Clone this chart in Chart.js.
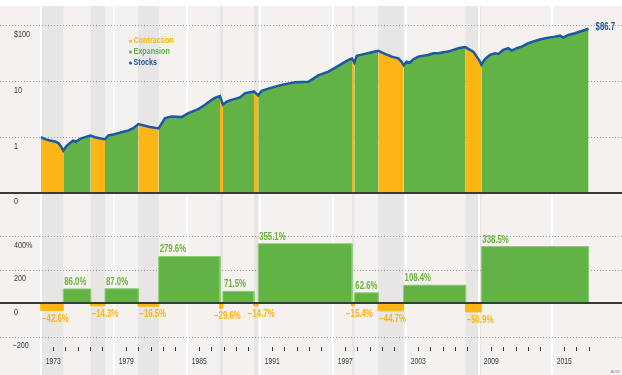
<!DOCTYPE html>
<html lang="en">
<head>
<meta charset="UTF-8">
<title>Stocks through contractions and expansions</title>
<script src="https://cdn.jsdelivr.net/npm/chart.js"></script>
<style>
  body { margin: 0; background: #fff; }
  #wrap { position: relative; width: 622px; height: 375px; overflow: hidden; }
  canvas { position: absolute; left: 0; }
  #top { top: 0; z-index: 2; }
  #bottom { top: 194px; z-index: 1; }
</style>
</head>
<body>
<div id="wrap">
  <canvas id="bottom" width="622" height="181"></canvas>
  <canvas id="top" width="622" height="212"></canvas>
</div>
<script>
// periods: C = contraction, E = expansion (years as decimals)
const periodPhase  = ['C','E','C','E','C','E','C','E','C','E','C','E','C','E','C','E'];
const periodStart  = [1973.00, 1974.83, 1977.08, 1978.26, 1981.00, 1982.67, 1987.71, 1987.95,
                      1990.50, 1990.85, 1998.56, 1998.75, 2000.72, 2002.80, 2007.90, 2009.19];
const periodEnd    = [1974.83, 1977.08, 1978.26, 1981.00, 1982.67, 1987.71, 1987.95, 1990.50,
                      1990.85, 1998.56, 1998.75, 2000.72, 2002.80, 2007.90, 2009.19, 2018.00];
const periodReturn = [-42.6, 86.0, -14.3, 87.0, -16.5, 279.6, -29.6, 71.5,
                      -14.7, 355.1, -15.4, 62.6, -44.7, 108.4, -50.9, 338.5];

// growth of $1 in stocks
const stockYears = [1973.00, 1973.33, 1973.74, 1974.15, 1974.42, 1974.64, 1974.83, 1975.11, 1975.38, 1975.65,
  1975.85, 1976.21, 1976.62, 1976.86, 1977.08, 1977.44, 1977.99, 1978.26, 1978.53, 1978.94,
  1979.35, 1979.76, 1980.18, 1980.59, 1981.00, 1981.55, 1981.96, 1982.23, 1982.67, 1983.19,
  1983.74, 1984.56, 1985.11, 1985.93, 1986.48, 1987.03, 1987.38, 1987.71, 1987.95, 1988.26,
  1988.67, 1989.36, 1989.77, 1990.18, 1990.50, 1990.85, 1991.14, 1991.82, 1992.78, 1993.88,
  1994.97, 1995.79, 1996.61, 1997.44, 1997.99, 1998.40, 1998.56, 1998.75, 1998.95, 1999.63,
  2000.18, 2000.72, 2001.27, 2001.82, 2002.37, 2002.65, 2002.80, 2003.06, 2003.33, 2003.60,
  2004.01, 2004.42, 2004.83, 2005.24, 2005.65, 2006.07, 2006.48, 2006.89, 2007.30, 2007.71,
  2007.90, 2008.25, 2008.53, 2008.81, 2009.08, 2009.19, 2009.49, 2009.90, 2010.31, 2010.58,
  2010.99, 2011.41, 2011.69, 2012.10, 2012.51, 2013.05, 2013.60, 2014.15, 2014.70, 2015.25,
  2015.66, 2015.93, 2016.34, 2016.89, 2017.44, 2018.00];
const stockValues = [1.000, 0.921, 0.870, 0.834, 0.781, 0.679, 0.574, 0.699, 0.781, 0.870,
  0.814, 0.932, 1.000, 1.033, 1.068, 0.992, 0.932, 0.915, 1.068, 1.113,
  1.179, 1.243, 1.312, 1.448, 1.711, 1.591, 1.509, 1.484, 1.429, 2.184,
  2.333, 2.276, 2.683, 3.162, 3.774, 4.636, 5.137, 5.424, 3.818, 4.321,
  4.636, 5.137, 6.107, 6.310, 6.548, 5.586, 6.710, 7.500, 8.590, 9.600,
  9.720, 12.69, 14.84, 18.76, 22.12, 24.71, 25.42, 21.51, 28.30, 30.73,
  32.95, 34.97, 30.73, 27.50, 25.54, 22.12, 19.34, 22.39, 21.48, 24.71,
  27.50, 28.65, 29.49, 31.62, 31.62, 32.95, 33.78, 36.23, 38.85, 40.47,
  40.30, 36.23, 33.78, 27.50, 22.39, 19.79, 24.71, 29.49, 31.62, 30.73,
  36.23, 38.85, 35.19, 38.85, 41.48, 47.71, 52.44, 56.94, 60.06, 62.58,
  65.21, 60.06, 67.12, 71.96, 79.11, 86.78];

const topTickValues = [0.1, 1, 10, 100];
const topTickLabels = ['0', '1', '10', '$100'];
const bottomTickValues = [400, 200, 0, -200];
const bottomTickLabels = ['400%', '200', '0', '\u2212200'];
const xTickLabels = ['1973', '1979', '1985', '1991', '1997', '2003', '2009', '2015'];
const endLabel = '$86.7';

const ORANGE = '#fcb514', GREEN = '#62b246', BLUE = '#1b58a6';
const BG = '#f4f1ee', BAND = '#e7e6e5', INK = '#3a3a3a', GRID = '#a3a3a3';
const FONT = '"Liberation Sans", Arial, sans-serif';
const xMin = 1969.63, xMax = 2020.75;

const isC = i => periodPhase[i] === 'C';
const colorOf = i => isC(i) ? ORANGE : GREEN;

// condensed text: the original uses a narrow face, so squeeze a regular one
function narrowText(ctx, s, x, y, squeeze, align) {
  const w = ctx.measureText(s).width * squeeze;
  let left = x;
  if (align === 'center') left = x - w / 2;
  if (align === 'right') left = x - w;
  ctx.save();
  ctx.textAlign = 'left';
  ctx.translate(left, y);
  ctx.scale(squeeze, 1);
  ctx.fillText(s, 0, 0);
  ctx.restore();
}

// background: panel colour, grey contraction bands, white 6-year lines, dotted grid
function backdrop(gridValues) {
  return {
    id: 'backdrop',
    beforeDraw(chart) {
      const { ctx, chartArea: a, scales } = chart;
      const x = scales.x, y = scales.y;
      ctx.save();
      ctx.fillStyle = BG;
      ctx.fillRect(a.left, a.top, a.width, a.height);
      ctx.fillStyle = BAND;
      periodStart.forEach((s, i) => {
        if (!isC(i)) return;
        const x0 = x.getPixelForValue(s);
        ctx.fillRect(x0, a.top, x.getPixelForValue(periodEnd[i]) - x0, a.height);
      });
      ctx.strokeStyle = '#fff';
      ctx.lineWidth = 2;
      for (let yr = 1973; yr <= xMax; yr += 6) {
        const px = Math.round(x.getPixelForValue(yr));
        ctx.beginPath(); ctx.moveTo(px, a.top); ctx.lineTo(px, a.bottom); ctx.stroke();
      }
      ctx.strokeStyle = GRID;
      ctx.lineWidth = 1;
      ctx.setLineDash([1, 2]);
      gridValues.forEach(v => {
        const py = Math.round(y.getPixelForValue(v)) + 0.5;
        ctx.beginPath(); ctx.moveTo(a.left, py); ctx.lineTo(a.right, py); ctx.stroke();
      });
      ctx.restore();
    }
  };
}

function drawYLabels(chart, values, labels) {
  const { ctx, scales } = chart;
  ctx.save();
  ctx.font = '9px ' + FONT;
  ctx.fillStyle = INK;
  ctx.textBaseline = 'middle';
  values.forEach((v, i) => {
    const lx = labels[i].startsWith('\u2212') ? 12.5 : 14;
    narrowText(ctx, labels[i], lx, scales.y.getPixelForValue(v) + 9, 0.8, 'left');
  });
  ctx.restore();
}

const baseOptions = {
  responsive: false,
  animation: false,
  devicePixelRatio: 1,
  plugins: { legend: { display: false }, tooltip: { enabled: false } },
  elements: { point: { radius: 0 }, line: { tension: 0 } }
};

// ---------- top panel: growth of $1 (log scale) ----------
const stockPoints = stockYears.map((yr, i) => ({ x: yr, y: stockValues[i] }));
const areaSets = periodStart.map((s, i) => ({
  data: stockPoints.filter(p => p.x >= s - 1e-6 && p.x <= periodEnd[i] + 1e-6),
  backgroundColor: colorOf(i),
  borderWidth: 0,
  fill: 'start',
  order: 2
}));

new Chart(document.getElementById('top'), {
  type: 'line',
  data: {
    datasets: [{
      label: 'Stocks',
      data: stockPoints,
      borderColor: BLUE,
      borderWidth: 2.5,
      fill: false,
      order: 0
    }, ...areaSets]
  },
  options: {
    ...baseOptions,
    layout: { padding: { top: 6, bottom: 19, left: 0, right: 0 } },
    scales: {
      x: { type: 'linear', min: xMin, max: xMax, display: false },
      y: { type: 'logarithmic', min: 0.1, max: 221, display: false }
    }
  },
  plugins: [backdrop([1, 10, 100]), {
    id: 'topText',
    afterDraw(chart) {
      const { ctx, chartArea: a, scales } = chart;
      ctx.save();
      // base line of the panel
      ctx.strokeStyle = INK;
      ctx.lineWidth = 2;
      ctx.beginPath(); ctx.moveTo(a.left, a.bottom); ctx.lineTo(a.right, a.bottom); ctx.stroke();
      ctx.restore();
      drawYLabels(chart, topTickValues, topTickLabels);

      ctx.save();
      ctx.font = 'bold 9px ' + FONT;
      ctx.textBaseline = 'middle';
      [['Contraction', ORANGE], ['Expansion', GREEN], ['Stocks', BLUE]].forEach(([t, c], i) => {
        ctx.fillStyle = c;
        ctx.beginPath(); ctx.arc(130.5, 41 + i * 11, 1.5, 0, Math.PI * 2); ctx.fill();
        narrowText(ctx, t, 133.5, 41 + i * 11, 0.8, 'left');
      });
      const last = stockPoints[stockPoints.length - 1];
      ctx.font = 'bold 10px ' + FONT;
      ctx.fillStyle = BLUE;
      narrowText(ctx, endLabel, scales.x.getPixelForValue(last.x) + 7, scales.y.getPixelForValue(last.y) - 1, 0.78, 'left');
      ctx.restore();
    }
  }]
});

// ---------- bottom panel: cumulative return per period ----------
const barSets = periodStart.map((s, i) => ({
  data: [{ x: s, y: 0 }, { x: s, y: periodReturn[i] }, { x: periodEnd[i], y: periodReturn[i] }, { x: periodEnd[i], y: 0 }],
  backgroundColor: colorOf(i),
  borderColor: isC(i) ? ORANGE : '#8dc978',
  borderWidth: 1,
  fill: 'origin'
}));

function fmtPct(v) {
  return (v < 0 ? '\u2212' : '') + Math.abs(v).toFixed(1) + '%';
}

new Chart(document.getElementById('bottom'), {
  type: 'line',
  data: { datasets: barSets },
  options: {
    ...baseOptions,
    layout: { padding: 0 },
    scales: {
      x: { type: 'linear', min: xMin, max: xMax, display: false },
      y: { type: 'linear', min: -427, max: 652, display: false }
    }
  },
  plugins: [backdrop([400, 200, -200]), {
    id: 'bottomText',
    afterDatasetsDraw(chart) {
      const { ctx, chartArea: a, scales: { x, y } } = chart;
      ctx.save();
      const zy = Math.round(y.getPixelForValue(0));
      ctx.strokeStyle = INK;
      ctx.lineWidth = 2;
      ctx.beginPath(); ctx.moveTo(a.left, zy); ctx.lineTo(a.right, zy); ctx.stroke();

      ctx.font = 'bold 10px ' + FONT;
      ctx.textBaseline = 'alphabetic';
      periodStart.forEach((s, i) => {
        const x0 = x.getPixelForValue(s), x1 = x.getPixelForValue(periodEnd[i]);
        const py = y.getPixelForValue(periodReturn[i]);
        if (isC(i)) {
          ctx.fillStyle = ORANGE;
          narrowText(ctx, fmtPct(periodReturn[i]), x1 - x0 < 10 ? x0 - 6 : x0 + 1, py + 11, 0.78, 'left');
        } else {
          ctx.fillStyle = '#6ab43c';
          narrowText(ctx, fmtPct(periodReturn[i]), x0 + 1, py - 4, 0.78, 'left');
        }
      });
      ctx.restore();
    },
    afterDraw(chart) {
      const { ctx, chartArea: a, scales: { x } } = chart;
      drawYLabels(chart, bottomTickValues, bottomTickLabels);
      ctx.save();
      // year ticks; each label sits at the end of its year
      ctx.strokeStyle = INK;
      ctx.lineWidth = 1;
      for (let yr = 1974; yr <= 2018; yr++) {
        if ((yr - 1973) % 6 === 0) continue;
        const px = Math.round(x.getPixelForValue(yr)) + 0.5;
        ctx.beginPath(); ctx.moveTo(px, 153); ctx.lineTo(px, 157); ctx.stroke();
      }
      ctx.font = '9px ' + FONT;
      ctx.fillStyle = INK;
      ctx.textBaseline = 'middle';
      xTickLabels.forEach(t => {
        narrowText(ctx, t, x.getPixelForValue(Number(t) + 1), 168, 0.75, 'center');
      });
      ctx.font = '4px ' + FONT;
      ctx.fillStyle = '#888';
      narrowText(ctx, 'A033', a.right - 2, a.bottom - 3, 1, 'right');
      ctx.restore();
    }
  }]
});
</script>
</body>
</html>
